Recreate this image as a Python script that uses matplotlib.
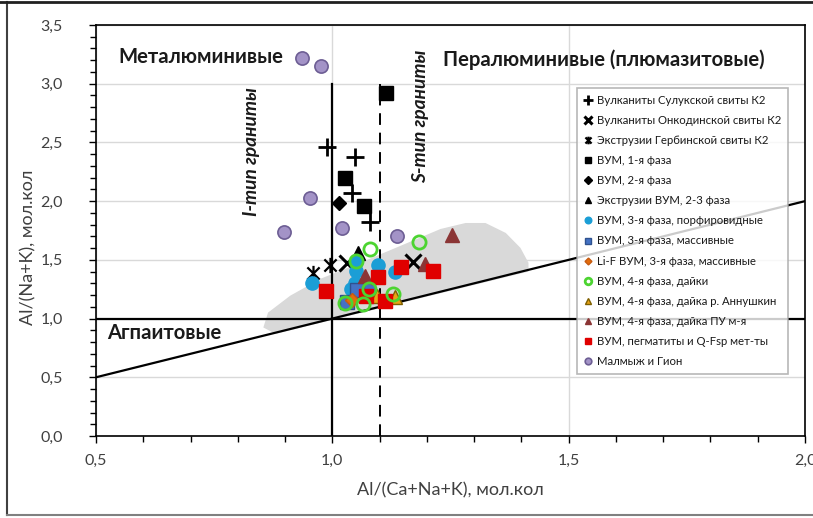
import matplotlib
matplotlib.use("Agg")
import matplotlib.pyplot as plt
from matplotlib.path import Path
from matplotlib.lines import Line2D
from matplotlib.patches import Polygon
from matplotlib.ticker import MultipleLocator, FuncFormatter

plt.rcParams['font.family'] = ['Lato', 'Open Sans', 'DejaVu Sans']

# --- data: Al/(Ca+Na+K) (x) and Al/(Na+K) (y), molar ---
sul_x = [0.989, 1.048, 1.042, 1.080]
sul_y = [2.462, 2.376, 2.070, 1.823]

onk_x = [1.031, 1.171]
onk_y = [1.474, 1.482]

gerb_x = [0.959, 0.995]
gerb_y = [1.388, 1.457]

f1_x = [1.113, 1.027, 1.067]
f1_y = [2.922, 2.198, 1.959]

f2_x = [1.014]
f2_y = [1.985]

ex23_x = [1.054]
ex23_y = [1.555]

f3p_x = [0.957, 1.097, 1.133, 1.050, 1.050, 1.048, 1.039]
f3p_y = [1.303, 1.457, 1.397, 1.482, 1.405, 1.303, 1.252]

f3m_x = [1.075, 1.052, 1.031]
f3m_y = [1.269, 1.244, 1.141]

lif_x = [1.042]
lif_y = [1.158]

f4d_x = [1.050, 1.080, 1.183, 1.078, 1.027, 1.065, 1.128]
f4d_y = [1.491, 1.593, 1.652, 1.252, 1.133, 1.124, 1.210]

ann_x = [1.094, 1.133]
ann_y = [1.193, 1.184]

pu_x = [1.253, 1.196, 1.069]
pu_y = [1.712, 1.465, 1.363]

peg_x = [0.987, 1.097, 1.145, 1.213, 1.071, 1.111]
peg_y = [1.235, 1.354, 1.440, 1.405, 1.193, 1.150]

mal_x = [0.936, 0.976, 0.953, 0.898, 1.020, 1.137]
mal_y = [3.220, 3.152, 2.027, 1.738, 1.772, 1.704]

# outline of the shaded field
field_x = [0.854, 0.864, 0.911, 0.975, 1.059, 1.144, 1.229, 1.282, 1.324,
           1.367, 1.398, 1.415, 1.415, 0.880]
field_y = [0.924, 1.051, 1.195, 1.339, 1.475, 1.619, 1.763, 1.814, 1.814,
           1.729, 1.602, 1.475, 1.400, 0.870]

labels = [
    "Вулканиты Сулукской свиты К2",
    "Вулканиты Онкодинской свиты К2",
    "Экструзии Гербинской свиты К2",
    "ВУМ, 1-я фаза",
    "ВУМ, 2-я фаза",
    "Экструзии ВУМ, 2-3 фаза",
    "ВУМ, 3-я фаза, порфировидные",
    "ВУМ, 3-я фаза, массивные",
    "Li-F ВУМ, 3-я фаза, массивные",
    "ВУМ, 4-я фаза, дайки",
    "ВУМ, 4-я фаза, дайка р. Аннушкин",
    "ВУМ, 4-я фаза, дайка ПУ м-я",
    "ВУМ, пегматиты и Q-Fsp мет-ты",
    "Малмыж и Гион",
]

# asterisk marker: X crossed by a vertical bar
star_path = Path(
    [(-1, -1), (1, 1), (-1, 1), (1, -1), (0, -1.25), (0, 1.25)],
    [Path.MOVETO, Path.LINETO, Path.MOVETO, Path.LINETO, Path.MOVETO, Path.LINETO],
)

fig = plt.figure(figsize=(8.13, 5.18), dpi=100)
ax = fig.add_axes([96 / 813, 1 - 436 / 518, 709 / 813, 411 / 518])

ax.set_xlim(0.5, 2.0)
ax.set_ylim(0.0, 3.5)
ax.xaxis.set_major_locator(MultipleLocator(0.5))
ax.xaxis.set_minor_locator(MultipleLocator(0.1))
ax.yaxis.set_major_locator(MultipleLocator(0.5))
ax.yaxis.set_minor_locator(MultipleLocator(0.1))
comma = FuncFormatter(lambda v, p: f"{v:.1f}".replace(".", ","))
ax.xaxis.set_major_formatter(comma)
ax.yaxis.set_major_formatter(comma)
ax.tick_params(which='major', direction='out', length=5, width=1, labelsize=11.5,
               colors='black', labelcolor='#404040')
ax.tick_params(which='minor', direction='out', length=4, width=1)
ax.tick_params(axis='x', pad=8)
ax.tick_params(axis='y', pad=19)
ax.grid(True, which='major', color='#d9d9d9', lw=1)
ax.set_axisbelow(True)
for s in ax.spines.values():
    s.set_color('black')
    s.set_linewidth(1.2)

ax.add_patch(Polygon(list(zip(field_x, field_y)), closed=True,
                     facecolor='#d9d9d9', edgecolor='none', zorder=1))

# classification boundaries
ax.plot([0.5, 2.0], [1.0, 1.0], color='black', lw=1.6, zorder=2)
ax.plot([0.5, 2.0], [0.5, 2.0], color='black', lw=1.6, zorder=2)
ax.plot([1.0, 1.0], [0.0, 3.0], color='black', lw=1.6, zorder=2)
ax.plot([1.1, 1.1], [0.0, 3.0], color='black', lw=1.4, ls=(0, (6, 4)), zorder=2)

ms = 9.5
handles = []
handles.append(ax.plot(sul_x, sul_y, ls='none', marker='+', ms=13.5, mew=2,
                       color='black', label=labels[0], zorder=4)[0])
handles.append(ax.plot(onk_x, onk_y, ls='none', marker='x', ms=11, mew=2.2,
                       color='black', label=labels[1], zorder=4)[0])
handles.append(ax.plot(gerb_x, gerb_y, ls='none', marker=star_path, ms=11, mew=1.6,
                       color='black', label=labels[2], zorder=4)[0])
handles.append(ax.plot(f1_x, f1_y, ls='none', marker='s', ms=ms, color='black',
                       label=labels[3], zorder=4)[0])
handles.append(ax.plot(f2_x, f2_y, ls='none', marker='D', ms=7.5, color='black',
                       label=labels[4], zorder=4)[0])
handles.append(ax.plot(ex23_x, ex23_y, ls='none', marker='^', ms=ms, color='black',
                       label=labels[5], zorder=4)[0])
handles.append(ax.plot(f3p_x, f3p_y, ls='none', marker='o', ms=ms, color='#1b9ed6',
                       mec='#1b9ed6', label=labels[6], zorder=4)[0])
handles.append(ax.plot(f3m_x, f3m_y, ls='none', marker='s', ms=ms, color='#4472c4',
                       mec='#2f528f', mew=1, label=labels[7], zorder=5)[0])
handles.append(ax.plot(lif_x, lif_y, ls='none', marker='D', ms=7, color='#e46c0a',
                       mec='#c55a11', label=labels[8], zorder=5)[0])
handles.append(ax.plot(f4d_x, f4d_y, ls='none', marker='o', ms=ms, mfc='none',
                       mec='#4cd431', mew=2, label=labels[9], zorder=6)[0])
handles.append(ax.plot(ann_x, ann_y, ls='none', marker='^', ms=ms, color='#e8a317',
                       mec='#7f6000', mew=1, label=labels[10], zorder=5)[0])
handles.append(ax.plot(pu_x, pu_y, ls='none', marker='^', ms=ms, color='#8b3535',
                       mec='#8b3535', label=labels[11], zorder=5)[0])
handles.append(ax.plot(peg_x, peg_y, ls='none', marker='s', ms=ms, color='#e00000',
                       mec='#e00000', label=labels[12], zorder=5)[0])
handles.append(ax.plot(mal_x, mal_y, ls='none', marker='o', ms=ms, color='#a393c7',
                       mec='#6d5e94', mew=1.2, label=labels[13], zorder=4)[0])

leg = ax.legend(handles=handles, loc='upper left',
                bbox_to_anchor=(0.678, 0.847), fontsize=8.2, markerscale=0.5,
                frameon=True, fancybox=False, edgecolor='#a6a6a6',
                borderpad=0.6, labelspacing=0.8, handlelength=0.8,
                handletextpad=0.35, borderaxespad=0)
leg.get_frame().set_linewidth(1.2)
for t in leg.get_texts():
    t.set_color('#1a1a1a')

# field names
ax.text(0.547, 3.228, "Металюминивые", fontsize=14.6, fontweight='bold',
        color='#1a1a1a', va='center', ha='left', zorder=7)
ax.text(1.234, 3.203, "Пералюминивые (плюмазитовые)", fontsize=14.6,
        fontweight='bold', color='#1a1a1a', va='center', ha='left', zorder=7)
ax.text(0.523, 0.877, "Агпаитовые", fontsize=14.6, fontweight='bold',
        color='#1a1a1a', va='center', ha='left', zorder=7)
ax.text(0.830, 2.42, "I-тип граниты", fontsize=13.8, fontweight='bold',
        fontstyle='italic', rotation=90, color='#1a1a1a', va='center',
        ha='center', zorder=7)
ax.text(1.186, 2.72, "S-тип граниты", fontsize=13.8, fontweight='bold',
        fontstyle='italic', rotation=90, color='#1a1a1a', va='center',
        ha='center', zorder=7)

ax.set_xlabel("Al/(Ca+Na+K), мол.кол", fontsize=13, color='#404040')
ax.set_ylabel("Al/(Na+K), мол.кол", fontsize=13, color='#404040')
ax.xaxis.set_label_coords((450 - 96) / 709, (436 - 490) / 411)
ax.yaxis.set_label_coords((28 - 96) / 709, (436 - 247) / 411)
ax.xaxis.label.set_verticalalignment('center')
ax.yaxis.label.set_verticalalignment('center')

# chart-area frame
fig.add_artist(Line2D([7 / 813, 7 / 813], [3 / 518, 1 - 2 / 518],
                      transform=fig.transFigure, color='#404040', lw=1.5))
fig.add_artist(Line2D([0, 1], [1 - 2 / 518, 1 - 2 / 518],
                      transform=fig.transFigure, color='#202020', lw=2))
fig.add_artist(Line2D([7 / 813, 1], [3 / 518, 3 / 518],
                      transform=fig.transFigure, color='#808080', lw=1.5))

fig.savefig("out.png", dpi=100)
